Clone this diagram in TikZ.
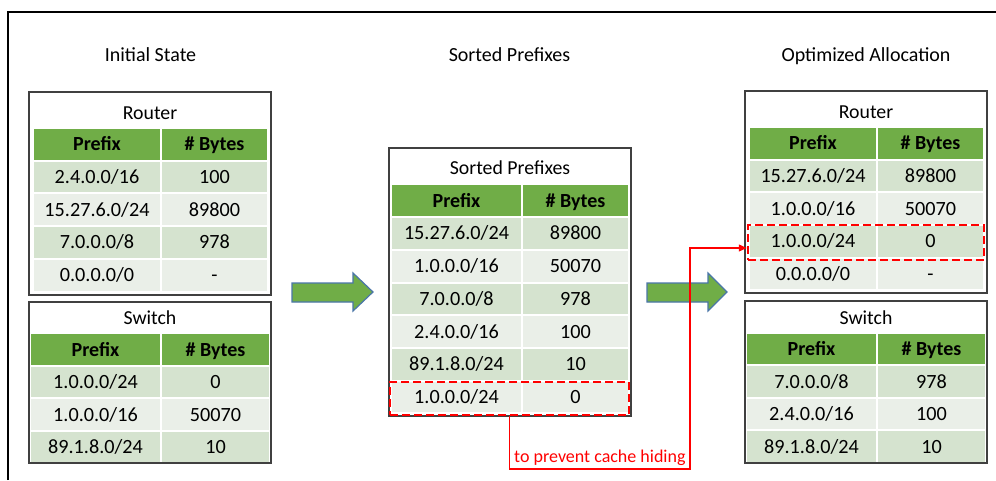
\documentclass[tikz,border=0pt]{standalone}
\usepackage{fontspec}
\setmainfont{Carlito}
\usetikzlibrary{arrows.meta}
\definecolor{hdgreen}{HTML}{70AD47}
\definecolor{rowdark}{HTML}{D5E3CF}
\definecolor{rowlight}{HTML}{EAEFE8}
\definecolor{arrowedge}{HTML}{4A76A8}
\definecolor{boxgray}{HTML}{404040}
\tikzset{
  cell/.style={inner sep=0pt, minimum height=32.7pt, text height=12.8pt, text depth=0pt,
    draw=white, line width=2pt, font=\fontsize{20.2}{24}\selectfont},
  hd/.style={cell, fill=hdgreen, font=\fontsize{20}{24}\selectfont\bfseries},
  dk/.style={cell, fill=rowdark},
  lt/.style={cell, fill=rowlight},
  pn/.style={minimum width=128pt}, pw/.style={minimum width=131pt},
  bn/.style={minimum width=107pt}, bw/.style={minimum width=109pt},
  ttl/.style={inner sep=0pt, text height=12.8pt, text depth=0pt, font=\fontsize{20}{24}\selectfont},
  boxttl/.style={ttl, font=\fontsize{19.8}{23}\selectfont},
  tablebox/.style={draw=boxgray, line width=1.5pt},
  bigarrow/.style={fill=hdgreen, draw=arrowedge, line width=1.2pt},
  redbox/.style={draw=red, dash pattern=on 8pt off 4pt, line width=2.5pt, inner sep=0pt}
}
\begin{document}
\begin{tikzpicture}[x=1pt, y=-1pt]
    \path [use as bounding box, fill=white] (0,0) rectangle (996,480);
    \draw [line width=1.2pt] (8,480) -- (8,12) -- (996,12);
    % column titles
    \node [ttl] (tinit) at (150.5,55.5) {Initial State};
    \node [ttl] (tsort) at (509.5,55.5) {Sorted Prefixes};
    \node [ttl] (topt) at (866,55.5) {Optimized Allocation};
    % initial state, router
    \node [boxttl] (irt) at (150,113) {Router};
    \node [hd, pn] (ir0a) at (97,144.4) {Prefix};       \node [hd, bn] (ir0b) at (214.5,144.4) {\# Bytes};
    \node [dk, pn] (ir1a) at (97,177.1) {2.4.0.0/16};   \node [dk, bn] (ir1b) at (214.5,177.1) {100};
    \node [lt, pn] (ir2a) at (97,209.8) {15.27.6.0/24}; \node [lt, bn] (ir2b) at (214.5,209.8) {89800};
    \node [dk, pn] (ir3a) at (97,242.5) {7.0.0.0/8};    \node [dk, bn] (ir3b) at (214.5,242.5) {978};
    \node [lt, pn] (ir4a) at (97,275.2) {0.0.0.0/0};    \node [lt, bn] (ir4b) at (214.5,275.2) {-};
    \draw [tablebox] (29,92) rectangle (271,295);
    % initial state, switch
    \node [boxttl] (ist) at (150,318) {Switch};
    \node [hd, pw] (is0a) at (95.5,349.8) {Prefix};      \node [hd, bw] (is0b) at (215.5,349.8) {\# Bytes};
    \node [dk, pw] (is1a) at (95.5,382.3) {1.0.0.0/24};  \node [dk, bw] (is1b) at (215.5,382.3) {0};
    \node [lt, pw] (is2a) at (95.5,414.8) {1.0.0.0/16};  \node [lt, bw] (is2b) at (215.5,414.8) {50070};
    \node [dk, pw] (is3a) at (95.5,447.3) {89.1.8.0/24}; \node [dk, bw] (is3b) at (215.5,447.3) {10};
    \draw [tablebox] (29,302) rectangle (271,463);
    % sorted prefixes
    \node [boxttl] (spt) at (510,168.5) {Sorted Prefixes};
    \node [hd, pw] (sp0a) at (456.5,200.8) {Prefix};       \node [hd, bn] (sp0b) at (575.5,200.8) {\# Bytes};
    \node [dk, pw] (sp1a) at (456.5,233.5) {15.27.6.0/24}; \node [dk, bn] (sp1b) at (575.5,233.5) {89800};
    \node [lt, pw] (sp2a) at (456.5,266.2) {1.0.0.0/16};   \node [lt, bn] (sp2b) at (575.5,266.2) {50070};
    \node [dk, pw] (sp3a) at (456.5,298.9) {7.0.0.0/8};    \node [dk, bn] (sp3b) at (575.5,298.9) {978};
    \node [lt, pw] (sp4a) at (456.5,331.6) {2.4.0.0/16};   \node [lt, bn] (sp4b) at (575.5,331.6) {100};
    \node [dk, pw] (sp5a) at (456.5,364.3) {89.1.8.0/24};  \node [dk, bn] (sp5b) at (575.5,364.3) {10};
    \node [lt, pw] (sp6a) at (456.5,397.0) {1.0.0.0/24};   \node [lt, bn] (sp6b) at (575.5,397.0) {0};
    \draw [tablebox] (389,148) rectangle (631,416);
    % optimized allocation, router
    \node [boxttl] (ort) at (866,112) {Router};
    \node [hd, pn] (or0a) at (813,143.3) {Prefix};       \node [hd, bn] (or0b) at (930.5,143.3) {\# Bytes};
    \node [dk, pn] (or1a) at (813,176.0) {15.27.6.0/24}; \node [dk, bn] (or1b) at (930.5,176.0) {89800};
    \node [lt, pn] (or2a) at (813,208.7) {1.0.0.0/16};   \node [lt, bn] (or2b) at (930.5,208.7) {50070};
    \node [dk, pn] (or3a) at (813,241.4) {1.0.0.0/24};   \node [dk, bn] (or3b) at (930.5,241.4) {0};
    \node [lt, pn] (or4a) at (813,274.1) {0.0.0.0/0};    \node [lt, bn] (or4b) at (930.5,274.1) {-};
    \draw [tablebox] (745,91) rectangle (987,293);
    % optimized allocation, switch
    \node [boxttl] (ost) at (866,318) {Switch};
    \node [hd, pw] (os0a) at (811.5,349.3) {Prefix};      \node [hd, bw] (os0b) at (931.5,349.3) {\# Bytes};
    \node [dk, pw] (os1a) at (811.5,381.8) {7.0.0.0/8};   \node [dk, bw] (os1b) at (931.5,381.8) {978};
    \node [lt, pw] (os2a) at (811.5,414.3) {2.4.0.0/16};  \node [lt, bw] (os2b) at (931.5,414.3) {100};
    \node [dk, pw] (os3a) at (811.5,446.8) {89.1.8.0/24}; \node [dk, bw] (os3b) at (931.5,446.8) {10};
    \draw [tablebox] (745,301) rectangle (987,463);
    % big arrows
    \draw [bigarrow] (292,283) -- (353,283) -- (353,273) -- (373,292) -- (353,311) -- (353,302) -- (292,302) -- cycle;
    \draw [bigarrow] (647,283) -- (708,283) -- (708,273) -- (727,292) -- (708,311) -- (708,302) -- (647,302) -- cycle;
    % moved prefix
    \node [redbox, minimum width=239pt, minimum height=33pt] (sdash) at (509.5,398.5) {};
    \node [redbox, minimum width=236pt, minimum height=35pt] (rdash) at (866,242.5) {};
    \coordinate (bend) at (690,469);
    \draw [red, line width=1.3pt, -{Triangle[length=8pt,width=7pt]}] (sdash.south) |- (bend) |- ([yshift=-5.5pt]rdash.west);
    \node [anchor=base west, text=red, inner sep=0pt, font=\fontsize{18}{21}\selectfont] (hint) at (514,462) {to prevent cache hiding};
\end{tikzpicture}
\end{document}
